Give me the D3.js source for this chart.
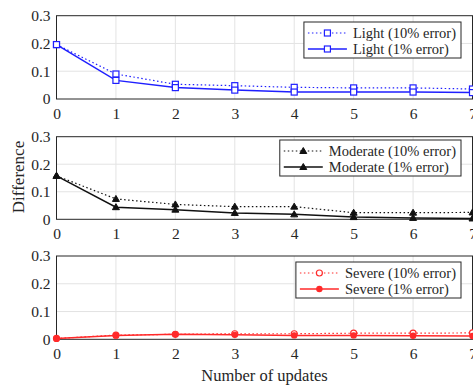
<!DOCTYPE html>
<html lang="en">
<head>
<meta charset="UTF-8" />
<title>Difference vs number of updates</title>
<style>
  body { margin: 0; background: #fff; }
  #chart text { font-family: "Liberation Serif", "Times New Roman", "DejaVu Serif", serif !important; fill: #262626; }
</style>
</head>
<body>
<svg id="chart" width="473" height="385"></svg>
<script src="https://cdn.jsdelivr.net/npm/d3@7"></script>
<script>
  const updates = [0, 1, 2, 3, 4, 5, 6, 7];
  const yTicks = [0, 0.1, 0.2, 0.3];

  const light10 = [0.196, 0.090, 0.053, 0.048, 0.042, 0.040, 0.040, 0.036];
  const light1 = [0.196, 0.067, 0.041, 0.032, 0.025, 0.025, 0.025, 0.023];
  const moderate10 = [0.158, 0.074, 0.054, 0.046, 0.046, 0.024, 0.024, 0.025];
  const moderate1 = [0.158, 0.044, 0.035, 0.023, 0.018, 0.008, 0.005, 0.003];
  const severe10 = [0.003, 0.015, 0.018, 0.020, 0.020, 0.022, 0.022, 0.023];
  const severe1 = [0.003, 0.014, 0.018, 0.016, 0.014, 0.014, 0.013, 0.012];

  const panels = [
    { top: 15.7, bottom: 99, color: "#1f1fff", marker: "square",
      series: [
        { name: "Light (10% error)", values: light10, dotted: true, fill: false },
        { name: "Light (1% error)", values: light1, dotted: false, fill: false }
      ], legendTop: 22 },
    { top: 136.7, bottom: 219.3, color: "#111", marker: "triangle",
      series: [
        { name: "Moderate (10% error)", values: moderate10, dotted: true, fill: true },
        { name: "Moderate (1% error)", values: moderate1, dotted: false, fill: true }
      ], legendTop: 140 },
    { top: 256, bottom: 339.3, color: "#ff2a2a", marker: "circle",
      series: [
        { name: "Severe (10% error)", values: severe10, dotted: true, fill: false },
        { name: "Severe (1% error)", values: severe1, dotted: false, fill: true }
      ], legendTop: 262 }
  ];

  const svg = d3.select("#chart");
  const left = 56.5, right = 472.5;
  const x = d3.scaleLinear().domain([0, 7]).range([left, right]);

  function drawMarker(g, type, cx, cy, color, fill) {
    if (type === "square") {
      g.append("rect").attr("x", cx - 3).attr("y", cy - 3).attr("width", 6).attr("height", 6)
        .attr("fill", fill ? color : "#fff").attr("stroke", color).attr("stroke-width", 1.2);
    } else if (type === "triangle") {
      g.append("path")
        .attr("d", `M${cx},${cy - 3.5}L${cx + 3.5},${cy + 2.5}L${cx - 3.5},${cy + 2.5}Z`)
        .attr("fill", fill ? color : "#fff").attr("stroke", color).attr("stroke-width", 1);
    } else {
      g.append("circle").attr("cx", cx).attr("cy", cy).attr("r", fill ? 2.6 : 3)
        .attr("fill", fill ? color : "#fff").attr("stroke", color).attr("stroke-width", 1.2);
    }
  }

  panels.forEach(p => {
    const y = d3.scaleLinear().domain([0, 0.3]).range([p.bottom, p.top]);
    const g = svg.append("g");

    // grid
    g.selectAll(".gx").data(updates.slice(1, -1)).join("line")
      .attr("x1", d => x(d)).attr("x2", d => x(d))
      .attr("y1", p.top).attr("y2", p.bottom)
      .attr("stroke", "#e3e3e3").attr("stroke-width", 1);
    g.selectAll(".gy").data(yTicks.slice(1, -1)).join("line")
      .attr("x1", left).attr("x2", right)
      .attr("y1", d => y(d)).attr("y2", d => y(d))
      .attr("stroke", "#e3e3e3").attr("stroke-width", 1);

    // axes labels
    const ax = g.append("g").attr("transform", `translate(0,${p.bottom})`)
      .call(d3.axisBottom(x).tickValues(updates).tickFormat(d3.format("d")).tickSize(0).tickPadding(8.5));
    const ay = g.append("g").attr("transform", `translate(${left},0)`)
      .call(d3.axisLeft(y).tickValues(yTicks).tickFormat(d => d === 0 ? "0" : d3.format(".1f")(d)).tickSize(0).tickPadding(6));
    [ax, ay].forEach(a => {
      a.attr("font-family", null);
      a.select(".domain").remove();
      a.selectAll("text").attr("font-size", 15.5);
    });

    // box
    g.append("rect").attr("x", left).attr("y", p.top)
      .attr("width", right - left).attr("height", p.bottom - p.top)
      .attr("fill", "none").attr("stroke", "#262626").attr("stroke-width", 1);

    const line = d3.line().x((d, i) => x(updates[i])).y(d => y(d));

    p.series.forEach(s => {
      g.append("path").attr("d", line(s.values))
        .attr("fill", "none").attr("stroke", p.color)
        .attr("stroke-width", s.dotted ? 1.2 : 1.5)
        .attr("stroke-dasharray", s.dotted ? "1.5,2.5" : null);
      s.values.forEach((v, i) => drawMarker(g, p.marker, x(updates[i]), y(v), p.color, s.fill));
    });

    // legend
    const lg = g.append("g");
    const texts = p.series.map((s, i) => lg.append("text")
      .attr("y", p.legendTop + 11 + i * 16 + 5)
      .attr("font-size", 14.5).text(s.name));
    const tw = d3.max(texts, t => t.node().getComputedTextLength());
    const boxRight = 461;
    const boxW = tw + 4 + 39 + 6 + 5;
    const boxLeft = boxRight - boxW;
    lg.insert("rect", "text").attr("x", boxLeft).attr("y", p.legendTop)
      .attr("width", boxW).attr("height", 36)
      .attr("fill", "#fff").attr("stroke", "#262626").attr("stroke-width", 1);
    texts.forEach(t => t.attr("x", boxLeft + 4 + 39 + 6));
    p.series.forEach((s, i) => {
      const ly = p.legendTop + 11 + i * 16;
      lg.append("line").attr("x1", boxLeft + 4).attr("x2", boxLeft + 43)
        .attr("y1", ly).attr("y2", ly).attr("stroke", p.color)
        .attr("stroke-width", s.dotted ? 1.2 : 1.5)
        .attr("stroke-dasharray", s.dotted ? "1.5,2.5" : null);
      drawMarker(lg, p.marker, boxLeft + 23.5, ly, p.color, s.fill);
    });
  });

  svg.append("text").attr("x", (left + right) / 2).attr("y", 381)
    .attr("text-anchor", "middle").attr("font-size", 16.5).text("Number of updates");
  svg.append("text").attr("transform", "translate(24,177) rotate(-90)")
    .attr("text-anchor", "middle").attr("font-size", 17).text("Difference");
</script>
</body>
</html>
